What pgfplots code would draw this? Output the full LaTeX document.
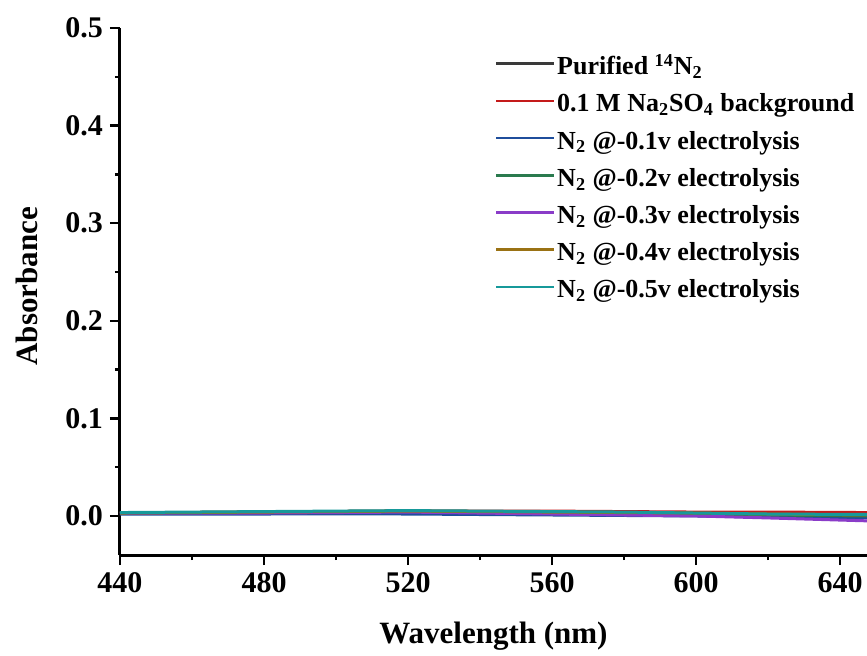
\documentclass[border=0pt]{standalone}
\usepackage{fontspec}
\setmainfont{Liberation Serif}
\usepackage{pgfplots}
\pgfplotsset{compat=1.18}
\definecolor{cK}{HTML}{3A3A3A}
\definecolor{cR}{HTML}{C41A1A}
\definecolor{cB}{HTML}{1F4E9C}
\definecolor{cG}{HTML}{2A7A4E}
\definecolor{cP}{HTML}{8A3CC8}
\definecolor{cO}{HTML}{9A7214}
\definecolor{cT}{HTML}{16999A}
\begin{document}
\begin{tikzpicture}
\begin{axis}[
  at={(0,0)}, anchor=south west,
  scale only axis, width=373.5pt, height=263.5pt,
  xmin=440, xmax=647.5, ymin=-0.04, ymax=0.5,
  axis x line*=bottom, axis y line*=left,
  axis line style={-, line width=1.5pt, black},
  xtick={440,480,520,560,600,640},
  minor x tick num=1,
  ytick={0,0.1,0.2,0.3,0.4,0.5},
  minor y tick num=1,
  tick align=outside,
  major tick length=5pt, minor tick length=2.5pt,
  every tick/.style={black, line width=1.2pt},
  /pgf/number format/assume math mode=true,
  yticklabel style={/pgf/number format/.cd, fixed, fixed zerofill, precision=1},
  ticklabel style={font=\bfseries\fontsize{15}{17}\selectfont},
  xlabel={Wavelength (nm)}, ylabel={Absorbance},
  label style={font=\bfseries\fontsize{15.5}{18}\selectfont},
  xlabel style={yshift=-8pt},
  ylabel style={at={(ticklabel cs:0.51)}, yshift=7pt},
  legend style={draw=none, fill=none, at={(rel axis cs:0.4935,0.955)}, anchor=north west,
    font=\bfseries\fontsize{13}{15}\selectfont, row sep=5.5pt,
    nodes={inner sep=0.8pt, text height=8.5pt, text depth=3pt}},
  legend cell align=left,
  legend image code/.code={\draw[#1, line width=1.3pt] (0pt,2.75pt) -- (29pt,2.75pt);},
  every axis plot/.append style={line width=1.5pt},
]
\addplot[cK] coordinates {(440,0.003) (460,0.0035) (480,0.004) (500,0.0045) (520,0.005) (540,0.0045) (560,0.004) (580,0.0035) (600,0.003) (620,0.0025) (647.5,0.002)};
\addlegendentry{Purified \textsuperscript{14}N\textsubscript{2}}
\addplot[cR] coordinates {(440,0.003) (460,0.0035) (480,0.004) (500,0.0045) (520,0.005) (540,0.005) (560,0.005) (580,0.0045) (600,0.004) (620,0.004) (647.5,0.0035)};
\addlegendentry{0.1 M Na\textsubscript{2}SO\textsubscript{4} background}
\addplot[cB] coordinates {(440,0.002) (460,0.002) (480,0.002) (500,0.0022) (520,0.002) (540,0.0015) (560,0.001) (580,0.0005) (600,0.0) (620,-0.001) (647.5,-0.002)};
\addlegendentry{N\textsubscript{2} @-0.1v electrolysis}
\addplot[cG] coordinates {(440,0.003) (460,0.0035) (480,0.004) (500,0.0045) (520,0.005) (540,0.0045) (560,0.004) (580,0.003) (600,0.002) (620,0.001) (647.5,0.0)};
\addlegendentry{N\textsubscript{2} @-0.2v electrolysis}
\addplot[cP] coordinates {(440,0.003) (460,0.003) (480,0.003) (500,0.0035) (520,0.004) (540,0.003) (560,0.002) (580,0.001) (600,0.0) (620,-0.002) (647.5,-0.005)};
\addlegendentry{N\textsubscript{2} @-0.3v electrolysis}
\addplot[cO] coordinates {(440,0.003) (460,0.0035) (480,0.004) (500,0.0045) (520,0.005) (540,0.0045) (560,0.004) (580,0.0035) (600,0.003) (620,0.002) (647.5,0.001)};
\addlegendentry{N\textsubscript{2} @-0.4v electrolysis}
\addplot[cT] coordinates {(440,0.0035) (460,0.004) (480,0.0045) (500,0.005) (520,0.0055) (540,0.005) (560,0.0045) (580,0.004) (600,0.003) (620,0.002) (647.5,0.0015)};
\addlegendentry{N\textsubscript{2} @-0.5v electrolysis}
\end{axis}
\pgfresetboundingbox
\path (-60pt,-50pt) rectangle (373.5pt,277.5pt);
\end{tikzpicture}
\end{document}
